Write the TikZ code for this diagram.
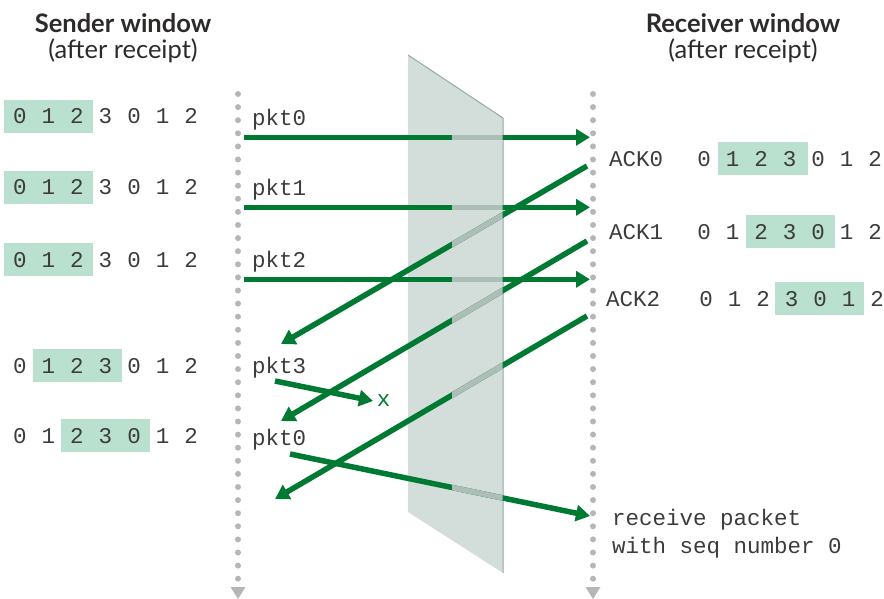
\documentclass[tikz,border=0pt]{standalone}
\usepackage{fontspec}
\setmainfont{Lato}
\newfontfamily\monof{Liberation Mono}
\usetikzlibrary{arrows.meta}
\definecolor{agreen}{RGB}{0,122,51}
\definecolor{wbox}{RGB}{186,225,207}
\definecolor{slabfill}{RGB}{211,222,218}
\definecolor{slabedge}{RGB}{150,170,162}
\definecolor{faded}{RGB}{172,190,182}
\definecolor{dotgray}{RGB}{182,182,182}
\definecolor{txt}{RGB}{45,42,42}
\definecolor{dtxt}{RGB}{60,60,60}
\tikzset{
  msg/.style={draw=agreen, line width=5.5pt, -{Triangle[length=14pt,width=16pt]}},
  msgback/.style={draw=faded, line width=5.5pt},
  mono/.style={font=\monof\fontsize{22.5}{26}\selectfont, text=dtxt, inner sep=0pt},
  digit/.style={mono, anchor=base},
  title/.style={font=\fontsize{25.5}{30}\selectfont, text=txt, inner sep=0pt, anchor=base},
  winbox/.style={fill=wbox, draw=none},
}
\begin{document}
\begin{tikzpicture}[x=1pt,y=-1pt]
\useasboundingbox (0,0) rectangle (884,599);

% titles
\node[title, font=\bfseries\fontsize{25.5}{30}\selectfont] (st1) at (123,33) {Sender window};
\node[title] (st2) at (123,59) {(after receipt)};
\node[title, font=\bfseries\fontsize{25.5}{30}\selectfont] (rt1) at (743,33) {Receiver window};
\node[title] (rt2) at (743,59) {(after receipt)};

% time lines
\foreach \k in {0,...,37} {
  \fill[dotgray] (238,94+13.1*\k) circle (3pt);
  \fill[dotgray] (593,94+13.1*\k) circle (3pt);
}
\fill[dotgray] (230.5,587) -- (245.5,587) -- (238,599) -- cycle;
\fill[dotgray] (585.5,587) -- (600.5,587) -- (593,599) -- cycle;

% slab
\fill[slabfill] (408,55) -- (503,118) -- (503,573) -- (408,512) -- cycle;
\draw[slabedge, line width=1pt] (408,55) -- (503,118) -- (503,573);

% sender windows
\foreach \row/\y/\s in {1/124/0, 2/195/0, 3/267/0, 4/373/1, 5/443/2} {
  \fill[wbox] ({20+28.5*\s-16}, \y-24) rectangle ({20+28.5*(\s+2)+16}, \y+9);
  \foreach \d [count=\i from 0] in {0,1,2,3,0,1,2}
    \node[digit] (L\row-\i) at ({20+28.5*\i}, \y) {\d};
}

% receiver windows
\foreach \row/\y/\xs/\bl/\br in {1/166.7/704/718/808, 2/239/704/746/835, 3/306.7/706/775/864} {
  \fill[wbox] (\bl, \y-24.5) rectangle (\br, \y+8.5);
  \foreach \d [count=\i from 0] in {0,1,2,3,0,1,2}
    \node[digit] (R\row-\i) at ({\xs+28.5*\i}, \y) {\d};
}

% labels
\node[mono, anchor=base west] (lp0) at (252,125.5) {pkt0};
\node[mono, anchor=base west] (lp1) at (252,196) {pkt1};
\node[mono, anchor=base west] (lp2) at (252,267) {pkt2};
\node[mono, anchor=base west] (lp3) at (252,373) {pkt3};
\node[mono, anchor=base west] (lp0b) at (252,445) {pkt0};
\node[mono, anchor=base west] (la0) at (609,166.7) {ACK0};
\node[mono, anchor=base west] (la1) at (609,239) {ACK1};
\node[mono, anchor=base west] (la2) at (606,306.7) {ACK2};
\node[mono, anchor=base west] (rcv1) at (612,525) {receive packet};
\node[mono, anchor=base west] (rcv2) at (612,553) {with seq number 0};
\node[mono, text=agreen] (lost) at (383.5,401) {x};

% arrow end points
\coordinate (p0s) at (244,137.3);  \coordinate (p0e) at (590,137.3);
\coordinate (p1s) at (244,207.3);  \coordinate (p1e) at (590,207.3);
\coordinate (p2s) at (244,279.3);  \coordinate (p2e) at (590,279.3);
\coordinate (a0s) at (587,166);    \coordinate (a0e) at (281,344);
\coordinate (a1s) at (587,241);    \coordinate (a1e) at (281,421);
\coordinate (a2s) at (587,316);    \coordinate (a2e) at (275,499);
\coordinate (p3s) at (275,381);    \coordinate (p3e) at (373,401);
\coordinate (p4s) at (290,454);    \coordinate (p4e) at (590,516);

% arrows
\draw[msg] (p0s) -- (p0e);
\draw[msg] (p1s) -- (p1e);
\draw[msg] (p2s) -- (p2e);
\draw[msg] (a0s) -- (a0e);
\draw[msg] (a1s) -- (a1e);
\draw[msg] (a2s) -- (a2e);
\draw[msg] (p3s) -- (p3e);
\draw[msg] (p4s) -- (p4e);

% parts behind the slab
\begin{scope}
  \clip (452,0) rectangle (502.5,599);
  \draw[msgback] (p0s) -- (p0e);
  \draw[msgback] (p1s) -- (p1e);
  \draw[msgback] (p2s) -- (p2e);
  \draw[msgback] (a0s) -- (a0e);
  \draw[msgback] (a1s) -- (a1e);
  \draw[msgback] (a2s) -- (a2e);
  \draw[msgback] (p4s) -- (p4e);
\end{scope}
\end{tikzpicture}
\end{document}
